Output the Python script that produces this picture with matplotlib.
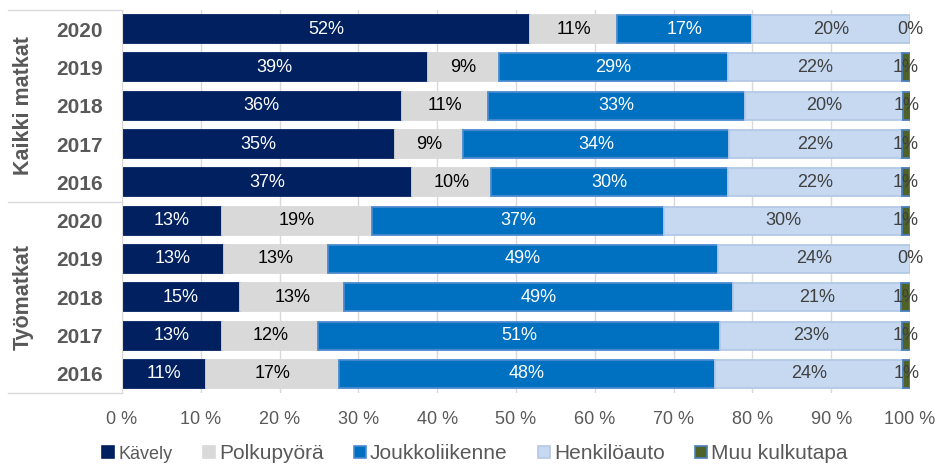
import numpy as np
import matplotlib.pyplot as plt
from matplotlib.patches import Patch
import matplotlib.transforms as mtransforms

plt.rcParams['font.family'] = ['Liberation Sans', 'DejaVu Sans']

years = ["2020", "2019", "2018", "2017", "2016", "2020", "2019", "2018", "2017", "2016"]
groups = ["Kaikki matkat", "Työmatkat"]
modes = ["Kävely", "Polkupyörä", "Joukkoliikenne", "Henkilöauto", "Muu kulkutapa"]

kavely = [51.8, 38.8, 35.5, 34.6, 36.8, 12.7, 12.9, 15.0, 12.7, 10.7]
polkupyora = [11.0, 9.0, 10.9, 8.7, 10.0, 19.0, 13.3, 13.2, 12.2, 16.9]
joukkoliikenne = [17.1, 29.1, 32.7, 33.7, 30.1, 37.1, 49.4, 49.3, 51.0, 47.6]
henkiloauto = [20.1, 22.1, 20.0, 22.0, 22.1, 30.2, 24.4, 21.4, 23.1, 23.9]
muu = [0.0, 1.0, 1.0, 1.0, 1.0, 1.0, 0.0, 1.1, 1.0, 0.9]

series = [kavely, polkupyora, joukkoliikenne, henkiloauto, muu]
colors = ["#002060", "#d9d9d9", "#0070c0", "#c6d9f1", "#4f6228"]
edges = ["#002060", "#d9d9d9", "#4a8ad0", "#b4c9e6", "#4a7ebb"]
text_colors = ["white", "black", "white", "#404040", "#404040"]

fig = plt.figure(figsize=(9.37, 4.65), dpi=100)
ax = fig.add_axes([0.1302, 0.1548, 0.841, 0.8237])

y = np.arange(len(years))
left = np.zeros(len(years))
for vals, c, ec, tc in zip(series, colors, edges, text_colors):
    vals = np.array(vals)
    lw = np.where(vals > 0, 1.3, 0)
    ax.barh(y, vals, left=left, height=0.73, color=c, edgecolor=ec, linewidth=lw, zorder=2)
    for yi, l, v in zip(y, left, vals):
        ax.text(l + v / 2, yi, f"{v:.0f}%", ha="center", va="center",
                color=tc, fontsize=13, zorder=3)
    left += vals

ax.set_xlim(0, 100)
ax.set_ylim(len(years) - 0.5, -0.5)
ax.set_xticks(np.arange(0, 101, 10))
ax.set_xticklabels([f"{t} %" for t in range(0, 101, 10)])
ax.set_yticks(y)
ax.set_yticklabels(years, fontweight="bold")
ax.tick_params(axis="x", length=0, pad=13, labelsize=13, labelcolor="#595959")
ax.tick_params(axis="y", length=0, pad=14, labelsize=15, labelcolor="#595959")
ax.grid(axis="x", color="#d9d9d9", linewidth=1, zorder=0)
for s in ["top", "right", "bottom"]:
    ax.spines[s].set_visible(False)
ax.spines["left"].set_color("#d9d9d9")

# group boxes on the left
trans = mtransforms.blended_transform_factory(ax.transAxes, ax.transData)
for yy in [-0.5, 4.5, 9.5]:
    ax.plot([-0.1447, 0], [yy, yy], color="#d9d9d9", lw=1, transform=trans, clip_on=False)
for name, yc in zip(groups, [2, 7]):
    ax.text(-0.125, yc, name, rotation=90, ha="center", va="center", transform=trans,
            fontsize=15.5, fontweight="bold", color="#595959")

handles = [Patch(facecolor=c, edgecolor=ec, linewidth=1.2) for c, ec in zip(colors, edges)]
leg = fig.legend(handles, modes, loc="center left", bbox_to_anchor=(0.109, 0.024), ncol=5,
                 frameon=False, handlelength=0.58, handleheight=0.58, handletextpad=0.2,
                 columnspacing=1.45, fontsize=15, borderpad=0, borderaxespad=0)
for t in leg.get_texts():
    t.set_color("#595959")
leg.get_texts()[0].set_fontsize(13)

fig.savefig("out.png", dpi=100)
